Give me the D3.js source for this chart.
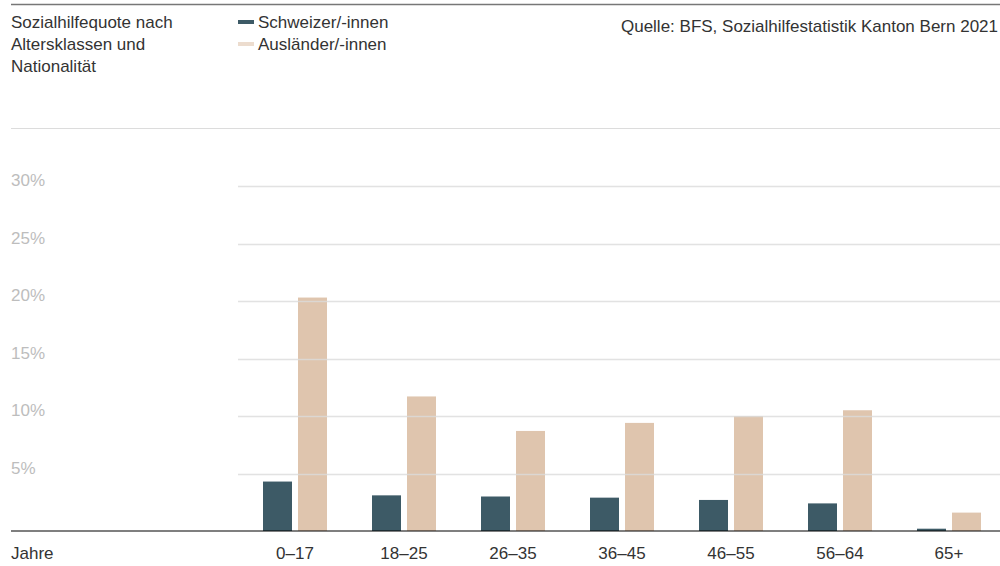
<!DOCTYPE html>
<html>
<head>
<meta charset="utf-8">
<script src="https://cdn.jsdelivr.net/npm/d3@7"></script>
<style>
  html, body { margin: 0; padding: 0; background: #fff; }
  svg { display: block; font-family: "Liberation Sans", Arial, Helvetica, sans-serif; }
</style>
</head>
<body>
<svg id="chart" width="1000" height="566"></svg>
<script>
// Age classes and social assistance rates (%) by nationality
const categories = ["0–17", "18–25", "26–35", "36–45", "46–55", "56–64", "65+"];
const seriesNames = ["Schweizer/-innen", "Ausländer/-innen"];
const swiss = [4.3, 3.1, 3.0, 2.9, 2.7, 2.4, 0.2];
const foreign = [20.3, 11.7, 8.7, 9.4, 10.0, 10.5, 1.6];
const yTicks = [5, 10, 15, 20, 25, 30];
const colors = ["#3d5a66", "#dfc5ae"];

const rows = categories.map((c, i) => ({ cat: c, values: [swiss[i], foreign[i]] }));

const svg = d3.select("#chart");
const textColor = "#333";
const fontSize = "17px";

// Scales
const y = d3.scaleLinear().domain([0, 30]).range([531, 186]);
const x = d3.scaleBand().domain(categories).range([240.5, 1003.5]).paddingInner(0).paddingOuter(0);
const groupWidth = 64;
const xs = d3.scaleBand().domain(seriesNames).range([0, groupWidth]).paddingInner(6 / 35);

// Top rule
svg.append("line").attr("x1", 11).attr("x2", 1000).attr("y1", 4.5).attr("y2", 4.5)
  .attr("stroke", "#777").attr("stroke-width", 1.6);

// Title
const title = svg.append("text").attr("x", 11).attr("y", 28).attr("fill", textColor).style("font-size", fontSize);
["Sozialhilfequote nach", "Altersklassen und", "Nationalität"].forEach((t, i) => {
  title.append("tspan").attr("x", 11).attr("dy", i === 0 ? 0 : 22).text(t);
});

// Legend
const legend = svg.append("g");
seriesNames.forEach((s, i) => {
  const ly = 22 + i * 22;
  legend.append("rect").attr("x", 238).attr("y", ly - 2).attr("width", 16).attr("height", 4)
    .attr("fill", colors[i]).attr("opacity", i === 1 ? 0.6 : 1);
  legend.append("text").attr("x", 258).attr("y", ly + 6).attr("fill", textColor)
    .style("font-size", fontSize).text(s);
});

// Source
svg.append("text").attr("x", 998).attr("y", 32).attr("text-anchor", "end")
  .attr("fill", textColor).style("font-size", fontSize)
  .text("Quelle: BFS, Sozialhilfestatistik Kanton Bern 2021");

// Separator line above the plot
svg.append("line").attr("x1", 11).attr("x2", 1000).attr("y1", 128.5).attr("y2", 128.5)
  .attr("stroke", "#dcdcdc").attr("stroke-width", 1);

// Bars
const groups = svg.append("g").selectAll("g").data(rows).join("g")
  .attr("transform", d => `translate(${x(d.cat) + (x.bandwidth() - groupWidth) / 2},0)`);
groups.selectAll("rect").data(d => d.values.map((v, i) => ({ v, s: seriesNames[i], i })))
  .join("rect")
  .attr("x", d => xs(d.s))
  .attr("width", xs.bandwidth())
  .attr("y", d => y(d.v))
  .attr("height", d => y(0) - y(d.v))
  .attr("fill", d => colors[d.i]);

// Grid lines (drawn over the bars)
svg.append("g").selectAll("line").data(yTicks).join("line")
  .attr("x1", 238).attr("x2", 1000)
  .attr("y1", d => Math.round(y(d)) + 0.5).attr("y2", d => Math.round(y(d)) + 0.5)
  .attr("stroke", "#dcdcdc").attr("stroke-width", 1.3).attr("opacity", 0.8);

// Y tick labels
svg.append("g").selectAll("text").data(yTicks).join("text")
  .attr("x", 11).attr("y", d => y(d))
  .attr("fill", "#bdbdbd").style("font-size", fontSize)
  .text(d => d + "%");

// Baseline
svg.append("line").attr("x1", 11).attr("x2", 1000).attr("y1", y(0)).attr("y2", y(0))
  .attr("stroke", "#000").attr("stroke-opacity", 0.5).attr("stroke-width", 2);

// Category axis
const xAxis = d3.axisBottom(x).tickSize(0).tickPadding(0);
const ax = svg.append("g").attr("transform", "translate(0,559)").call(xAxis);
ax.select(".domain").remove();
ax.selectAll("text").attr("fill", textColor).style("font-size", fontSize)
  .style("font-family", "'Liberation Sans', Arial, Helvetica, sans-serif")
  .attr("dy", 0).attr("y", 0);

svg.append("text").attr("x", 11).attr("y", 559).attr("fill", textColor)
  .style("font-size", fontSize).text("Jahre");
</script>
</body>
</html>
